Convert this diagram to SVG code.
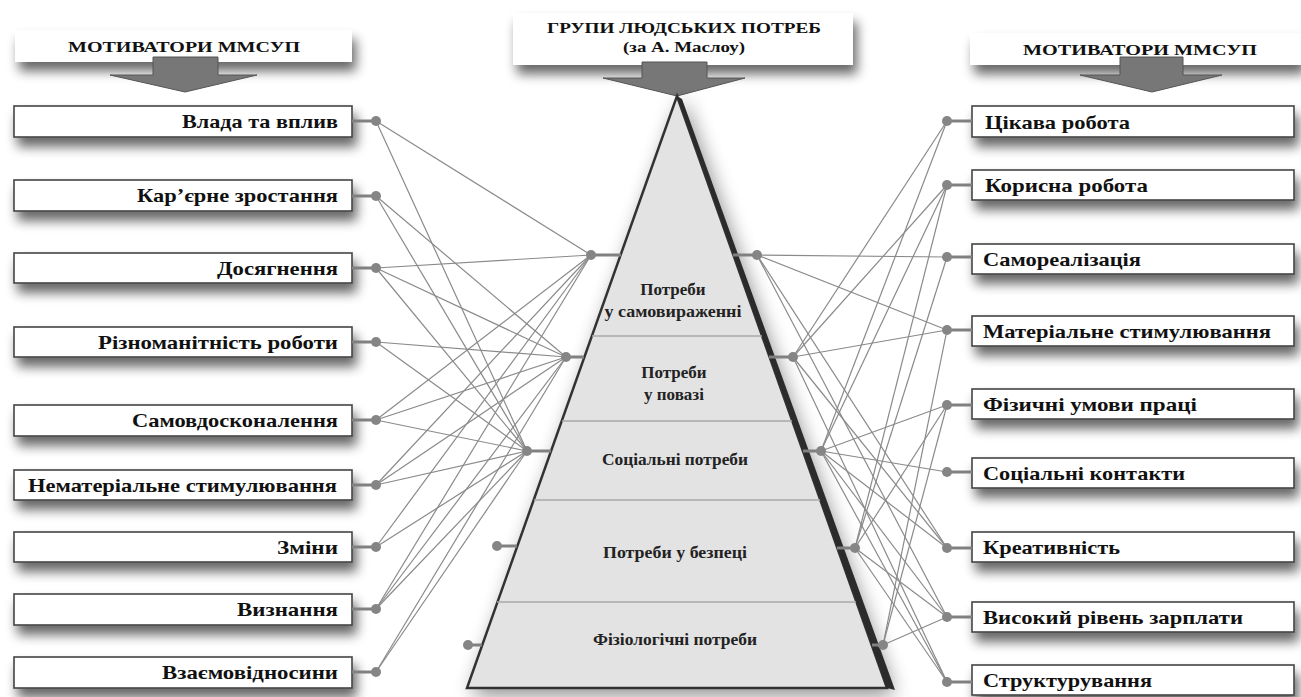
<svg xmlns="http://www.w3.org/2000/svg" width="1301" height="697" viewBox="0 0 1301 697">
<defs>
<filter id="sh" x="-10%" y="-50%" width="130%" height="250%">
<feGaussianBlur in="SourceAlpha" stdDeviation="6"/>
<feOffset dx="4" dy="9" result="b"/>
<feComponentTransfer><feFuncA type="linear" slope="0.6"/></feComponentTransfer>
<feMerge><feMergeNode/><feMergeNode in="SourceGraphic"/></feMerge>
</filter>
<filter id="psh" x="-20%" y="-10%" width="140%" height="130%">
<feGaussianBlur in="SourceAlpha" stdDeviation="10"/>
<feOffset dx="6" dy="6" result="b"/>
<feComponentTransfer><feFuncA type="linear" slope="0.45"/></feComponentTransfer>
<feMerge><feMergeNode/><feMergeNode in="SourceGraphic"/></feMerge>
</filter>
<style>
.box{fill:#fff;stroke:#444;stroke-width:1.6}
.hbox{fill:#fff}
.lbl{font-family:"Liberation Serif","Times New Roman",serif;font-weight:bold;font-size:19px;fill:#111}
.hdr{font-family:"Liberation Serif","Times New Roman",serif;font-weight:bold;font-size:15px;fill:#111}
.pt{font-family:"Liberation Serif","Times New Roman",serif;font-weight:bold;font-size:17px;fill:#222;text-anchor:middle}
.arr{fill:#777;stroke:#555;stroke-width:1}
.ln{stroke:#8a8a8a;stroke-width:1.2;fill:none}
.stem{stroke:#808080;stroke-width:3}
.dot{fill:#858585}
.div{stroke:#a8a8a8;stroke-width:1.5}
</style>
</defs>
<rect width="1301" height="697" fill="#fff"/>

<!-- headers -->
<g id="hdr-left">
<rect class="hbox" x="15" y="30" width="337" height="32" filter="url(#sh)"/>
<text class="hdr" x="68" y="52" textLength="232" lengthAdjust="spacingAndGlyphs">МОТИВАТОРИ  ММСУП</text>
<path class="arr" d="M153,57 H218 V75 H257 L185,92 L110,75 H153 Z"/>
</g>
<g id="hdr-center">
<rect class="hbox" x="513" y="13" width="340" height="52" filter="url(#sh)"/>
<text class="hdr" x="547" y="33" textLength="274" lengthAdjust="spacingAndGlyphs">ГРУПИ ЛЮДСЬКИХ ПОТРЕБ</text>
<text class="hdr" x="623" y="52" textLength="122" lengthAdjust="spacingAndGlyphs">(за А. Маслоу)</text>
<path class="arr" d="M642,62 H707 V78 H745 L677,96 L603,78 H642 Z"/>
</g>
<g id="hdr-right">
<rect class="hbox" x="970" y="33" width="331" height="32" filter="url(#sh)"/>
<text class="hdr" x="1023" y="55" textLength="234" lengthAdjust="spacingAndGlyphs">МОТИВАТОРИ  ММСУП</text>
<path class="arr" d="M1120,57 H1183 V75 H1222 L1152,92 L1080,75 H1120 Z"/>
</g>

<!-- pyramid -->
<g id="pyramid">
<polygon points="677,96 887,688 467,688" fill="#e3e3e3" stroke="#333" stroke-width="2.5" filter="url(#psh)"/>
<path d="M677,96 L887,688 L895,690 L682,99 Z" fill="#2b2b2b"/>
<line class="div" x1="592" y1="336" x2="762" y2="336"/>
<line class="div" x1="562" y1="421" x2="792" y2="421"/>
<line class="div" x1="534" y1="500" x2="820" y2="500"/>
<line class="div" x1="497" y1="602" x2="856" y2="602"/>
</g>
<g id="level-1"><text class="pt" x="673" y="295">Потреби</text><text class="pt" x="673" y="317" textLength="137" lengthAdjust="spacingAndGlyphs">у самовираженні</text></g>
<g id="level-2"><text class="pt" x="674" y="378">Потреби</text><text class="pt" x="674" y="400">у повазі</text></g>
<g id="level-3"><text class="pt" x="675" y="465" textLength="146" lengthAdjust="spacingAndGlyphs">Соціальні потреби</text></g>
<g id="level-4"><text class="pt" x="675" y="558" textLength="144" lengthAdjust="spacingAndGlyphs">Потреби у безпеці</text></g>
<g id="level-5"><text class="pt" x="675" y="645" textLength="164" lengthAdjust="spacingAndGlyphs">Фізіологічні потреби</text></g>

<!-- connectors -->
<g id="connectors">
<!-- left -->
<line class="ln" x1="376" y1="121" x2="591" y2="255"/>
<line class="ln" x1="376" y1="121" x2="527" y2="451"/>
<line class="ln" x1="376" y1="196" x2="566" y2="357"/>
<line class="ln" x1="376" y1="196" x2="527" y2="451"/>
<line class="ln" x1="376" y1="268" x2="591" y2="255"/>
<line class="ln" x1="376" y1="268" x2="566" y2="357"/>
<line class="ln" x1="376" y1="268" x2="527" y2="451"/>
<line class="ln" x1="376" y1="342" x2="566" y2="357"/>
<line class="ln" x1="376" y1="342" x2="527" y2="451"/>
<line class="ln" x1="376" y1="420" x2="591" y2="255"/>
<line class="ln" x1="376" y1="420" x2="566" y2="357"/>
<line class="ln" x1="376" y1="420" x2="527" y2="451"/>
<line class="ln" x1="376" y1="485" x2="591" y2="255"/>
<line class="ln" x1="376" y1="485" x2="566" y2="357"/>
<line class="ln" x1="376" y1="485" x2="527" y2="451"/>
<line class="ln" x1="376" y1="547" x2="591" y2="255"/>
<line class="ln" x1="376" y1="547" x2="527" y2="451"/>
<line class="ln" x1="376" y1="609" x2="591" y2="255"/>
<line class="ln" x1="376" y1="609" x2="566" y2="357"/>
<line class="ln" x1="376" y1="609" x2="527" y2="451"/>
<line class="ln" x1="376" y1="672" x2="566" y2="357"/>
<line class="ln" x1="376" y1="672" x2="527" y2="451"/>
<!-- right -->
<line class="ln" x1="757" y1="255" x2="947" y2="257"/>
<line class="ln" x1="757" y1="255" x2="947" y2="330"/>
<line class="ln" x1="757" y1="255" x2="947" y2="548"/>
<line class="ln" x1="757" y1="255" x2="947" y2="617"/>
<line class="ln" x1="793" y1="357" x2="947" y2="121"/>
<line class="ln" x1="793" y1="357" x2="947" y2="185"/>
<line class="ln" x1="793" y1="357" x2="947" y2="330"/>
<line class="ln" x1="793" y1="357" x2="947" y2="548"/>
<line class="ln" x1="793" y1="357" x2="947" y2="682"/>
<line class="ln" x1="821" y1="451" x2="947" y2="121"/>
<line class="ln" x1="821" y1="451" x2="947" y2="185"/>
<line class="ln" x1="821" y1="451" x2="947" y2="405"/>
<line class="ln" x1="821" y1="451" x2="947" y2="472"/>
<line class="ln" x1="821" y1="451" x2="947" y2="548"/>
<line class="ln" x1="821" y1="451" x2="947" y2="617"/>
<line class="ln" x1="821" y1="451" x2="947" y2="682"/>
<line class="ln" x1="855" y1="548" x2="947" y2="185"/>
<line class="ln" x1="855" y1="548" x2="947" y2="257"/>
<line class="ln" x1="855" y1="548" x2="947" y2="405"/>
<line class="ln" x1="855" y1="548" x2="947" y2="617"/>
<line class="ln" x1="855" y1="548" x2="947" y2="682"/>
<line class="ln" x1="883" y1="645" x2="947" y2="330"/>
<line class="ln" x1="883" y1="645" x2="947" y2="405"/>
<line class="ln" x1="883" y1="645" x2="947" y2="617"/>
<!-- pyramid stems and dots -->
<line class="stem" x1="591" y1="255" x2="621" y2="255"/><circle class="dot" cx="591" cy="255" r="5"/>
<line class="stem" x1="566" y1="357" x2="584" y2="357"/><circle class="dot" cx="566" cy="357" r="5"/>
<line class="stem" x1="527" y1="451" x2="551" y2="451"/><circle class="dot" cx="527" cy="451" r="5"/>
<line class="stem" x1="497" y1="546" x2="517" y2="546"/><circle class="dot" cx="497" cy="546" r="5"/>
<line class="stem" x1="468" y1="645" x2="482" y2="645"/><circle class="dot" cx="468" cy="645" r="5"/>
<line class="stem" x1="733" y1="255" x2="757" y2="255"/><circle class="dot" cx="757" cy="255" r="5"/>
<line class="stem" x1="769" y1="357" x2="793" y2="357"/><circle class="dot" cx="793" cy="357" r="5"/>
<line class="stem" x1="803" y1="451" x2="821" y2="451"/><circle class="dot" cx="821" cy="451" r="5"/>
<line class="stem" x1="837" y1="548" x2="855" y2="548"/><circle class="dot" cx="855" cy="548" r="5"/>
<line class="stem" x1="872" y1="645" x2="883" y2="645"/><circle class="dot" cx="883" cy="645" r="5"/>
</g>

<!-- left nodes -->
<g id="l1"><rect class="box" x="14" y="106" width="338" height="31" filter="url(#sh)"/><line class="stem" x1="352" y1="121" x2="376" y2="121"/><circle class="dot" cx="376" cy="121" r="5"/><text class="lbl" x="182" y="128" textLength="156" lengthAdjust="spacingAndGlyphs">Влада та вплив</text></g>
<g id="l2"><rect class="box" x="14" y="180" width="338" height="31" filter="url(#sh)"/><line class="stem" x1="352" y1="196" x2="376" y2="196"/><circle class="dot" cx="376" cy="196" r="5"/><text class="lbl" x="137" y="202" textLength="201" lengthAdjust="spacingAndGlyphs">Кар’єрне зростання</text></g>
<g id="l3"><rect class="box" x="14" y="253" width="338" height="30" filter="url(#sh)"/><line class="stem" x1="352" y1="268" x2="376" y2="268"/><circle class="dot" cx="376" cy="268" r="5"/><text class="lbl" x="217" y="275" textLength="121" lengthAdjust="spacingAndGlyphs">Досягнення</text></g>
<g id="l4"><rect class="box" x="14" y="327" width="338" height="30" filter="url(#sh)"/><line class="stem" x1="352" y1="342" x2="376" y2="342"/><circle class="dot" cx="376" cy="342" r="5"/><text class="lbl" x="98" y="349" textLength="240" lengthAdjust="spacingAndGlyphs">Різноманітність роботи</text></g>
<g id="l5"><rect class="box" x="14" y="405" width="338" height="31" filter="url(#sh)"/><line class="stem" x1="352" y1="420" x2="376" y2="420"/><circle class="dot" cx="376" cy="420" r="5"/><text class="lbl" x="132" y="427" textLength="206" lengthAdjust="spacingAndGlyphs">Самовдосконалення</text></g>
<g id="l6"><rect class="box" x="14" y="470" width="338" height="30" filter="url(#sh)"/><line class="stem" x1="352" y1="485" x2="376" y2="485"/><circle class="dot" cx="376" cy="485" r="5"/><text class="lbl" x="28" y="492" textLength="309" lengthAdjust="spacingAndGlyphs">Нематеріальне стимулювання</text></g>
<g id="l7"><rect class="box" x="14" y="532" width="338" height="30" filter="url(#sh)"/><line class="stem" x1="352" y1="547" x2="376" y2="547"/><circle class="dot" cx="376" cy="547" r="5"/><text class="lbl" x="277" y="554" textLength="61" lengthAdjust="spacingAndGlyphs">Зміни</text></g>
<g id="l8"><rect class="box" x="14" y="594" width="338" height="31" filter="url(#sh)"/><line class="stem" x1="352" y1="609" x2="376" y2="609"/><circle class="dot" cx="376" cy="609" r="5"/><text class="lbl" x="237" y="616" textLength="101" lengthAdjust="spacingAndGlyphs">Визнання</text></g>
<g id="l9"><rect class="box" x="14" y="657" width="338" height="31" filter="url(#sh)"/><line class="stem" x1="352" y1="672" x2="376" y2="672"/><circle class="dot" cx="376" cy="672" r="5"/><text class="lbl" x="162" y="679" textLength="176" lengthAdjust="spacingAndGlyphs">Взаємовідносини</text></g>

<!-- right nodes -->
<g id="r1"><rect class="box" x="972" y="106" width="322" height="31" filter="url(#sh)"/><line class="stem" x1="947" y1="121" x2="972" y2="121"/><circle class="dot" cx="947" cy="121" r="5"/><text class="lbl" x="985" y="129" textLength="145" lengthAdjust="spacingAndGlyphs">Цікава робота</text></g>
<g id="r2"><rect class="box" x="972" y="170" width="322" height="30" filter="url(#sh)"/><line class="stem" x1="947" y1="185" x2="972" y2="185"/><circle class="dot" cx="947" cy="185" r="5"/><text class="lbl" x="985" y="192" textLength="163" lengthAdjust="spacingAndGlyphs">Корисна робота</text></g>
<g id="r3"><rect class="box" x="972" y="244" width="322" height="30" filter="url(#sh)"/><line class="stem" x1="947" y1="257" x2="972" y2="257"/><circle class="dot" cx="947" cy="257" r="5"/><text class="lbl" x="983" y="266" textLength="158" lengthAdjust="spacingAndGlyphs">Самореалізація</text></g>
<g id="r4"><rect class="box" x="972" y="316" width="322" height="30" filter="url(#sh)"/><line class="stem" x1="947" y1="330" x2="972" y2="330"/><circle class="dot" cx="947" cy="330" r="5"/><text class="lbl" x="983" y="338" textLength="288" lengthAdjust="spacingAndGlyphs">Матеріальне стимулювання</text></g>
<g id="r5"><rect class="box" x="972" y="389" width="322" height="30" filter="url(#sh)"/><line class="stem" x1="947" y1="405" x2="972" y2="405"/><circle class="dot" cx="947" cy="405" r="5"/><text class="lbl" x="983" y="411" textLength="214" lengthAdjust="spacingAndGlyphs">Фізичні умови праці</text></g>
<g id="r6"><rect class="box" x="972" y="458" width="322" height="30" filter="url(#sh)"/><line class="stem" x1="947" y1="472" x2="972" y2="472"/><circle class="dot" cx="947" cy="472" r="5"/><text class="lbl" x="983" y="480" textLength="202" lengthAdjust="spacingAndGlyphs">Соціальні контакти</text></g>
<g id="r7"><rect class="box" x="972" y="532" width="322" height="30" filter="url(#sh)"/><line class="stem" x1="947" y1="548" x2="972" y2="548"/><circle class="dot" cx="947" cy="548" r="5"/><text class="lbl" x="983" y="554" textLength="137" lengthAdjust="spacingAndGlyphs">Креативність</text></g>
<g id="r8"><rect class="box" x="972" y="602" width="322" height="30" filter="url(#sh)"/><line class="stem" x1="947" y1="617" x2="972" y2="617"/><circle class="dot" cx="947" cy="617" r="5"/><text class="lbl" x="983" y="624" textLength="260" lengthAdjust="spacingAndGlyphs">Високий рівень зарплати</text></g>
<g id="r9"><rect class="box" x="972" y="665" width="322" height="30" filter="url(#sh)"/><line class="stem" x1="947" y1="682" x2="972" y2="682"/><circle class="dot" cx="947" cy="682" r="5"/><text class="lbl" x="983" y="687" textLength="169" lengthAdjust="spacingAndGlyphs">Структурування</text></g>
</svg>
